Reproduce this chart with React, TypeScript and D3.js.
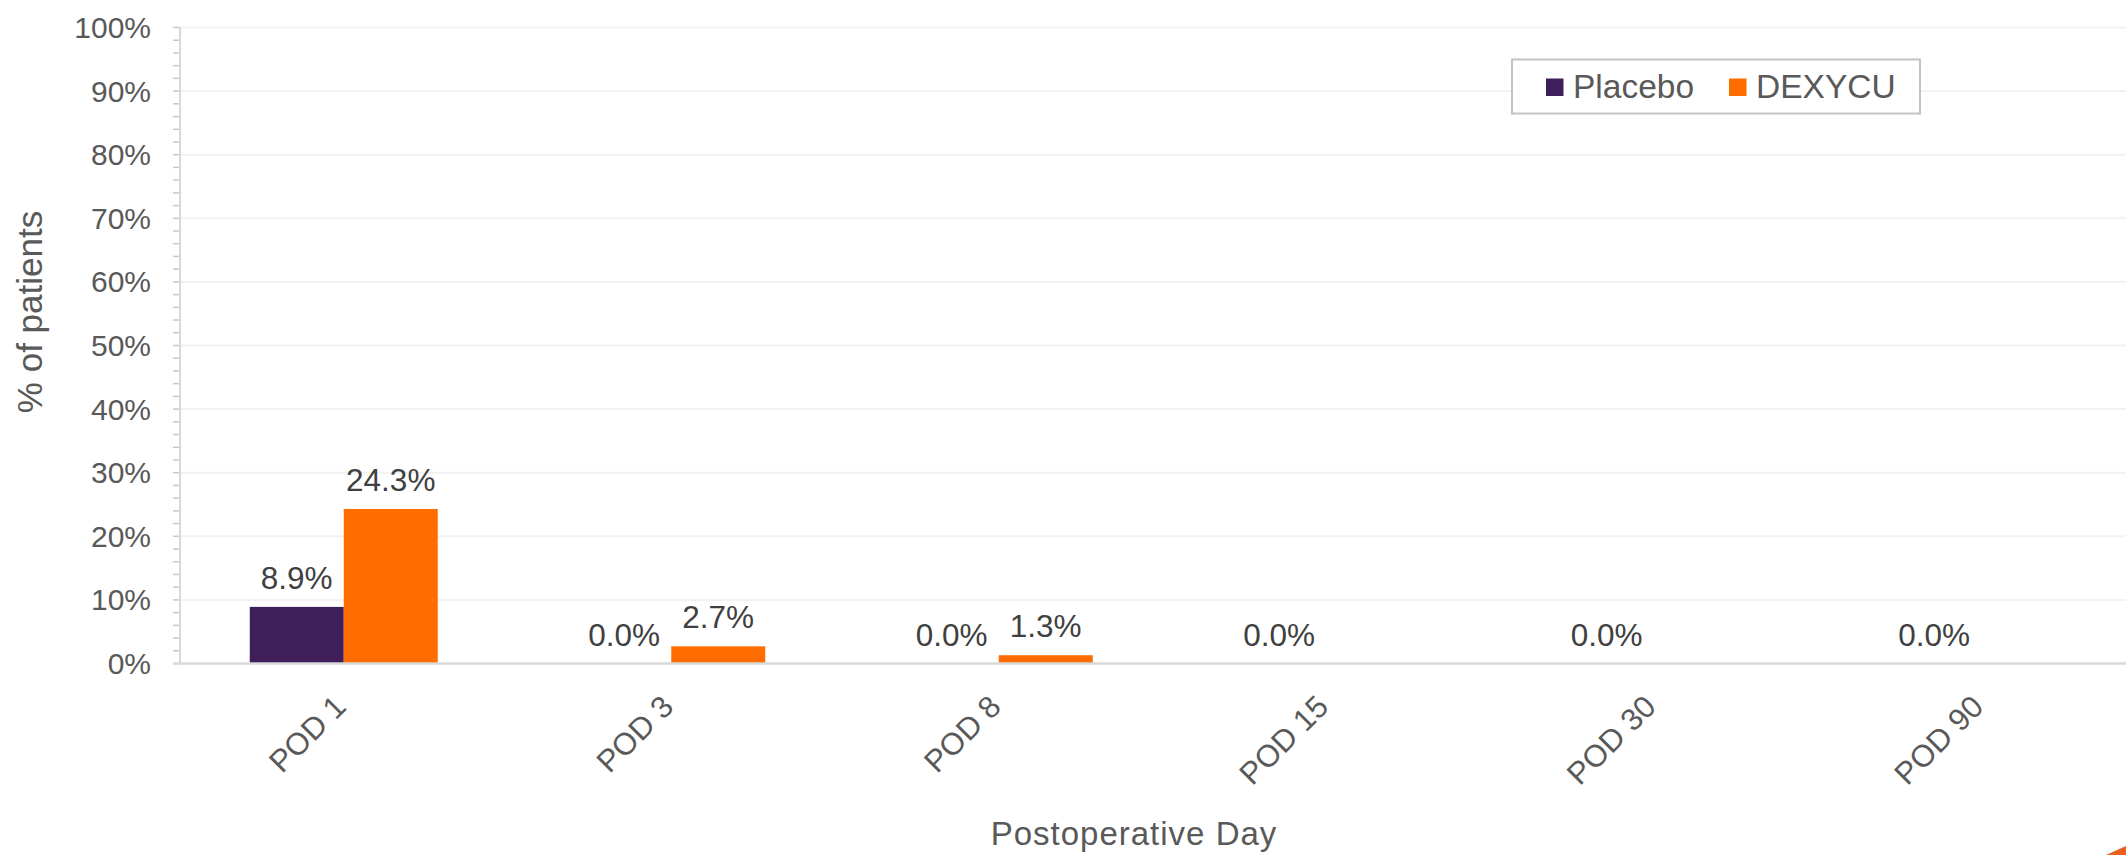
import React, { useEffect, useRef } from "react";
import * as d3 from "d3";

const categories = ["POD 1", "POD 3", "POD 8", "POD 15", "POD 30", "POD 90"];
const seriesNames = ["Placebo", "DEXYCU"];
const placebo = [8.9, 0.0, 0.0, 0.0, 0.0, 0.0];
const dexycu = [24.3, 2.7, 1.3, 0, 0, 0];
// DEXYCU has no label on the last three days, placebo always has one
const dexycuLabels = [true, true, true, false, false, false];
const yTicks = [0, 10, 20, 30, 40, 50, 60, 70, 80, 90, 100];

const colors = ["#3f1f5b", "#ff6d00"];
const font = "'Liberation Sans', Arial, sans-serif";

function drawChart(node: SVGSVGElement) {
  const svg = d3.select(node);
  svg.selectAll("*").remove();

  const W = 2126;
  const H = 855;
  const left = 180;
  const top = 27.5;
  const bottom = 663.5;
  const plotRight = 2145; // plot area runs past the picture edge

  const x0 = d3
    .scaleBand<string>()
    .domain(categories)
    .range([left, plotRight])
    .paddingInner(0.426)
    .paddingOuter(0.213);
  const x1 = d3
    .scaleBand<string>()
    .domain(seriesNames)
    .range([0, x0.bandwidth()]);
  const y = d3.scaleLinear().domain([0, 100]).range([bottom, top]);

  // gridlines
  svg
    .append("g")
    .selectAll("line")
    .data(yTicks.filter((t) => t > 0))
    .enter()
    .append("line")
    .attr("x1", left)
    .attr("x2", W)
    .attr("y1", (d) => y(d))
    .attr("y2", (d) => y(d))
    .style("stroke", "#f2f2f2")
    .style("stroke-width", 2);

  // minor ticks every 2%
  svg
    .append("g")
    .selectAll("line")
    .data(d3.range(0, 101, 2))
    .enter()
    .append("line")
    .attr("x1", left - 7)
    .attr("x2", left)
    .attr("y1", (d) => y(d))
    .attr("y2", (d) => y(d))
    .style("stroke", "#c8c8c8")
    .style("stroke-width", 1.5);

  // y tick labels
  svg
    .append("g")
    .selectAll("text")
    .data(yTicks)
    .enter()
    .append("text")
    .attr("x", 151)
    .attr("y", (d) => y(d) + 10.5)
    .attr("text-anchor", "end")
    .style("font-family", font)
    .style("font-size", "30px")
    .style("fill", "#595959")
    .text((d) => d + "%");

  // bars
  const rows = categories.map((c, i) => ({
    cat: c,
    values: [
      { key: seriesNames[0], v: placebo[i], label: true },
      { key: seriesNames[1], v: dexycu[i], label: dexycuLabels[i] },
    ],
  }));

  const groups = svg
    .append("g")
    .selectAll("g")
    .data(rows)
    .enter()
    .append("g")
    .attr("transform", (d) => `translate(${x0(d.cat)},0)`);

  groups
    .selectAll("rect")
    .data((d) => d.values)
    .enter()
    .append("rect")
    .attr("x", (d) => x1(d.key)!)
    .attr("width", x1.bandwidth())
    .attr("y", (d) => y(d.v))
    .attr("height", (d) => bottom - y(d.v))
    .style("fill", (d, i) => colors[i]);

  groups
    .selectAll("text")
    .data((d) => d.values.filter((v) => v.label))
    .enter()
    .append("text")
    .attr("x", (d) => x1(d.key)! + x1.bandwidth() / 2)
    .attr("y", (d) => y(d.v) - 18)
    .attr("text-anchor", "middle")
    .style("font-family", font)
    .style("font-size", "31.5px")
    .style("fill", "#404040")
    .text((d) => d.v.toFixed(1) + "%");

  // axes lines
  svg
    .append("line")
    .attr("x1", left)
    .attr("x2", left)
    .attr("y1", top)
    .attr("y2", bottom)
    .style("stroke", "#d9d9d9")
    .style("stroke-width", 2);
  svg
    .append("line")
    .attr("x1", left - 7)
    .attr("x2", W)
    .attr("y1", bottom)
    .attr("y2", bottom)
    .style("stroke", "#d9d9d9")
    .style("stroke-width", 2.5);

  // x tick labels, rotated
  svg
    .append("g")
    .selectAll("text")
    .data(categories)
    .enter()
    .append("text")
    .attr(
      "transform",
      (d) => `translate(${x0(d)! + x0.bandwidth() / 2 + 4},${bottom + 45}) rotate(-45)`
    )
    .attr("text-anchor", "end")
    .style("font-family", font)
    .style("font-size", "31px")
    .style("fill", "#595959")
    .text((d) => d);

  // axis titles
  svg
    .append("text")
    .attr("x", 1134)
    .attr("y", 845)
    .attr("text-anchor", "middle")
    .style("font-family", font)
    .style("font-size", "33px")
    .style("letter-spacing", "1px")
    .style("fill", "#595959")
    .text("Postoperative Day");

  svg
    .append("text")
    .attr("text-anchor", "middle")
    .attr("transform", "translate(42,312) rotate(-90)")
    .style("font-family", font)
    .style("font-size", "35px")
    .style("fill", "#595959")
    .text("% of patients");

  // legend
  const lg = svg.append("g");
  lg.append("rect")
    .attr("x", 1512)
    .attr("y", 59.5)
    .attr("width", 408)
    .attr("height", 54)
    .style("fill", "#fff")
    .style("stroke", "#c4c4c4")
    .style("stroke-width", 2);
  const legendX = [1546, 1729];
  seriesNames.forEach((name, i) => {
    lg.append("rect")
      .attr("x", legendX[i])
      .attr("y", 78.5)
      .attr("width", 17.5)
      .attr("height", 17.5)
      .style("fill", colors[i]);
    lg.append("text")
      .attr("x", legendX[i] + 27)
      .attr("y", 97.5)
      .style("font-family", font)
      .style("font-size", "33.5px")
      .style("fill", "#595959")
      .text(name);
  });

  // corner decoration from the slide
  svg
    .append("path")
    .attr("d", `M2106,${H} L${W},846 L${W},${H} Z`)
    .style("fill", "#e8601c");
}

const App = () => {
  const ref = useRef<SVGSVGElement>(null);
  useEffect(() => {
    if (ref.current) drawChart(ref.current);
  }, []);

  return (
    <svg
      ref={ref}
      width={2126}
      height={855}
      style={{ position: "absolute", left: 0, top: 0, background: "#fff" }}
    />
  );
};

export default App;
